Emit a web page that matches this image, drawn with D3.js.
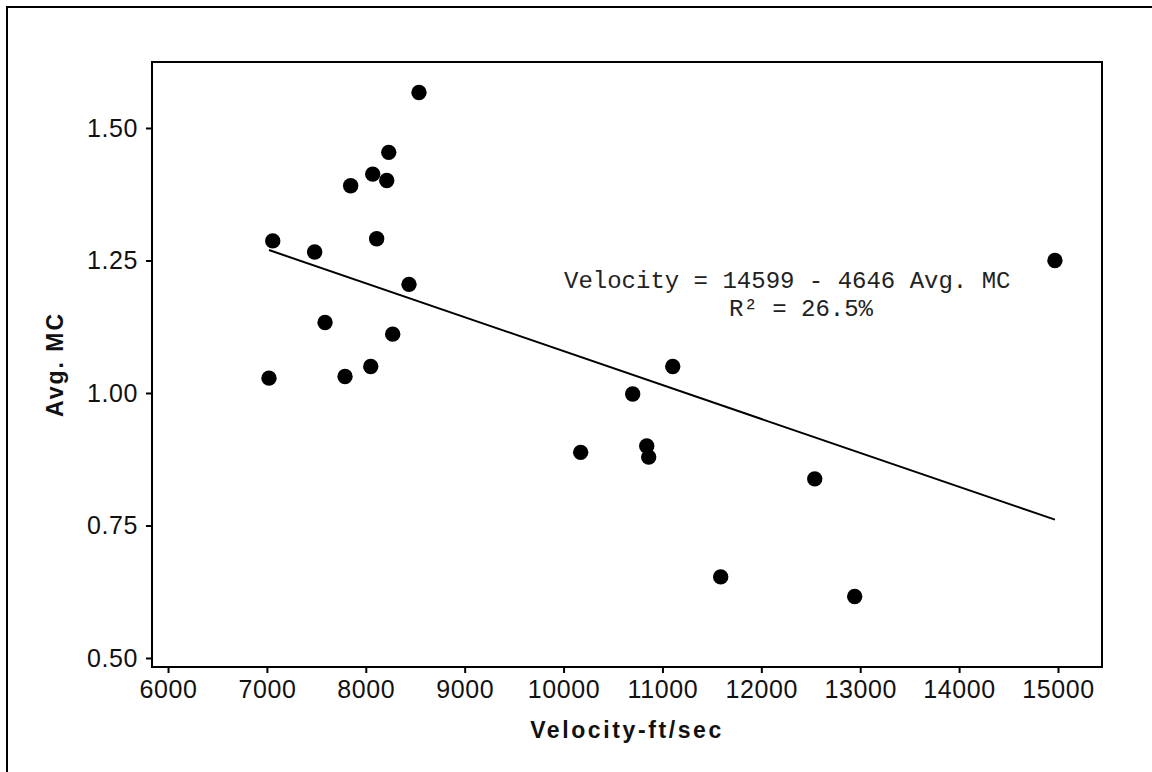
<!DOCTYPE html>
<html>
<head>
<meta charset="utf-8">
<script src="https://cdn.jsdelivr.net/npm/d3@7"></script>
<style>
  html, body { margin: 0; padding: 0; background: #fff; }
  svg { display: block; }
</style>
</head>
<body>
<svg id="chart" width="1152" height="772"></svg>
<script>
// Velocity (ft/sec) against average moisture content, with fitted line
const velocity = [8538, 8232, 8070, 8212, 7847, 7059, 7483, 8110, 8437, 7588, 8272,
                  7021, 7790, 8050, 11104, 10699, 10173, 10841, 10861, 12540, 11589, 12944, 14969];
const avgMC    = [1.567, 1.454, 1.413, 1.401, 1.391, 1.287, 1.266, 1.291, 1.205, 1.133, 1.111,
                  1.028, 1.031, 1.050, 1.050, 0.998, 0.888, 0.900, 0.879, 0.838, 0.653, 0.616, 1.250];

// Fitted line (Avg. MC on velocity), drawn across the velocity range
const fitIntercept = 1.719;
const fitSlope = -0.0000640;

const xTicks = [6000, 7000, 8000, 9000, 10000, 11000, 12000, 13000, 14000, 15000];
const yTicks = [0.50, 0.75, 1.00, 1.25, 1.50];
const fitLabel = ["Velocity = 14599 - 4646 Avg. MC", "R\u00B2 = 26.5%"];

const svg = d3.select("#chart");
const plot = { left: 152, top: 62, right: 1102, bottom: 667 };

const x = d3.scaleLinear().domain([5838, 15445]).range([plot.left, plot.right]);
const y = d3.scaleLinear().domain([0.483, 1.6245]).range([plot.bottom, plot.top]);

// outer frame
svg.append("path")
  .attr("d", "M7,772 L7,7 L1152,7")
  .attr("fill", "none").attr("stroke", "#000").attr("stroke-width", 2);

// axes
const xAxis = svg.append("g")
  .attr("transform", `translate(0,${plot.bottom})`)
  .call(d3.axisBottom(x).tickValues(xTicks).tickFormat(d3.format("d")).tickSize(6).tickSizeOuter(0));
const yAxis = svg.append("g")
  .attr("transform", `translate(${plot.left},0)`)
  .call(d3.axisLeft(y).tickValues(yTicks).tickFormat(d3.format(".2f")).tickSize(6).tickSizeOuter(0));

[xAxis, yAxis].forEach(g => {
  g.select(".domain").remove();
  g.selectAll(".tick line").attr("stroke", "#000").attr("stroke-width", 2);
  g.selectAll(".tick text")
    .attr("fill", "#111")
    .style("font-family", "'Liberation Sans', Arial, sans-serif")
    .style("font-size", "25px")
    .style("letter-spacing", "0.6px");
});
xAxis.selectAll(".tick text").attr("y", 13).attr("dy", "0.71em");
yAxis.selectAll(".tick text").attr("x", -14).attr("dy", "0.34em");

// plot frame
svg.append("rect")
  .attr("x", plot.left).attr("y", plot.top)
  .attr("width", plot.right - plot.left).attr("height", plot.bottom - plot.top)
  .attr("fill", "none").attr("stroke", "#000").attr("stroke-width", 2);

// fitted line
const vExt = d3.extent(velocity);
svg.append("line")
  .attr("x1", x(vExt[0])).attr("y1", y(fitIntercept + fitSlope * vExt[0]))
  .attr("x2", x(vExt[1])).attr("y2", y(fitIntercept + fitSlope * vExt[1]))
  .attr("stroke", "#000").attr("stroke-width", 2);

// points
svg.append("g").selectAll("circle")
  .data(d3.zip(velocity, avgMC))
  .join("circle")
  .attr("cx", d => x(d[0]))
  .attr("cy", d => y(d[1]))
  .attr("r", 7.7)
  .attr("fill", "#000");

// fit equation
const mono = "'Liberation Mono', 'Courier New', monospace";
svg.append("text")
  .attr("x", 564).attr("y", 288)
  .style("font-family", mono).style("font-size", "24px").attr("fill", "#222")
  .text(fitLabel[0]);
svg.append("text")
  .attr("x", 729).attr("y", 316)
  .style("font-family", mono).style("font-size", "24px").attr("fill", "#222")
  .text(fitLabel[1]);

// axis titles
svg.append("text")
  .attr("x", (plot.left + plot.right) / 2).attr("y", 738)
  .attr("text-anchor", "middle")
  .style("font-family", "'Liberation Sans', Arial, sans-serif")
  .style("font-size", "23px").style("font-weight", "bold").style("letter-spacing", "2.6px")
  .attr("fill", "#111")
  .text("Velocity-ft/sec");
svg.append("text")
  .attr("transform", `translate(63,${(plot.top + plot.bottom) / 2}) rotate(-90)`)
  .attr("text-anchor", "middle")
  .style("font-family", "'Liberation Sans', Arial, sans-serif")
  .style("font-size", "23px").style("font-weight", "bold").style("letter-spacing", "2px")
  .attr("fill", "#111")
  .text("Avg. MC");
</script>
</body>
</html>
